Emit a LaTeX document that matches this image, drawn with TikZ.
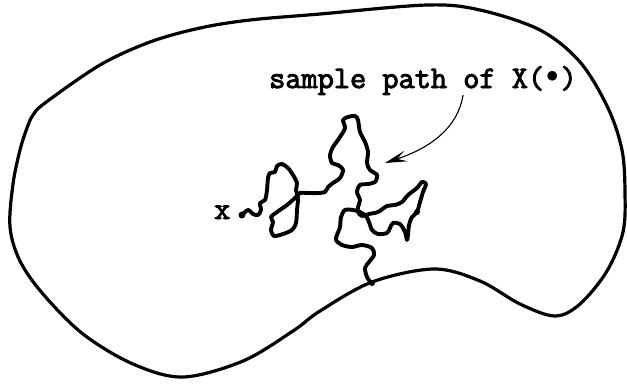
\documentclass[tikz,border=0pt]{standalone}
\usepackage{fontspec}
\newfontfamily\courb[FakeBold=3]{Latin Modern Mono}
\usetikzlibrary{arrows.meta}
\tikzset{
  region/.style={line width=3.2pt, line join=round},
  walk/.style={line width=3.9pt, line join=round, line cap=round},
  pointer/.style={line width=1.1pt, -{Stealth[length=22pt,width=11pt,inset=9pt]}},
  lbl/.style={inner sep=0pt, font=\fontsize{31.4}{34}\selectfont\courb},
  blob/.style={fill=black, circle, inner sep=0pt, minimum size=7pt}
}
\begin{document}
\begin{tikzpicture}[x=1pt,y=-1pt]
\useasboundingbox (0,0) rectangle (627,384);
\fill[white] (0,0) rectangle (627,384);
% outer region
\draw[region] plot[smooth cycle, tension=0.55] coordinates {
(13,184) (20,150) (27,128) (33,115) (45,103) (100,65) (150,42) (200,28) (250,20) (320,14)
(427,5) (480,10) (540,30) (580,62) (608,108) (622,150) (625,192) (623,232) (607,271)
(580,304) (555,316) (520,304) (480,281) (434,269) (372,282) (320,311) (293,331)
(243,361) (183,377) (133,364) (83,334) (43,294) (20,261) (10,227)};
% sample path
\draw[walk] plot[smooth, tension=0.5] coordinates {
(242,215) (248,210) (253,214) (258,215) (261,210) (260,203) (265,200) (267,190) (268,178)
(270,173) (275,172) (277,166) (282,164) (288,168) (293,175) (297,183) (296,190) (298,198)
(297,210) (296,223) (292,230) (283,234) (274,236) (271,230) (273,222) (271,217) (277,212)
(287,205) (295,198) (300,193) (307,193) (318,193) (325,192) (328,187) (333,183) (340,178)
(343,170) (338,165) (332,163) (330,155) (333,147) (340,137) (345,128) (343,120) (348,117)
(355,116) (358,120) (360,132) (365,142) (368,152) (367,163) (370,170) (377,175) (375,182)
(368,184) (360,185) (357,192) (360,200) (358,207) (358,212) (362,216) (369,214) (378,212)
(387,206) (395,205) (402,202) (408,195) (417,188) (422,182) (426,184) (423,192) (420,202)
(417,212) (412,217) (409,225) (408,235) (407,240) (405,232) (400,224) (393,223) (390,228)
(387,233) (378,234) (372,230) (369,222) (366,216) (360,212) (353,210) (345,210) (341,217)
(340,227) (337,235) (336,240) (342,245) (352,247) (362,245) (372,248) (374,255) (369,262)
(365,268) (367,277) (372,284)};
\node[blob] (start) at (242,215) {};
\node[blob, minimum size=6pt] (mid) at (417,212) {};
\node[blob, minimum size=6pt] (hit) at (372,283) {};
% labels
\node[lbl, anchor=base west] (x) at (214,219) {x};
\node[lbl, anchor=base west] (title) at (269,88) {sample path of X(\makebox[0.525em]{\raisebox{0.18em}{$\bullet$}})};
\coordinate (from) at (463,95);
\coordinate (tip) at (385,163);
\draw[pointer] (from) .. controls (458,128) and (430,148) .. (tip);
\end{tikzpicture}
\end{document}
